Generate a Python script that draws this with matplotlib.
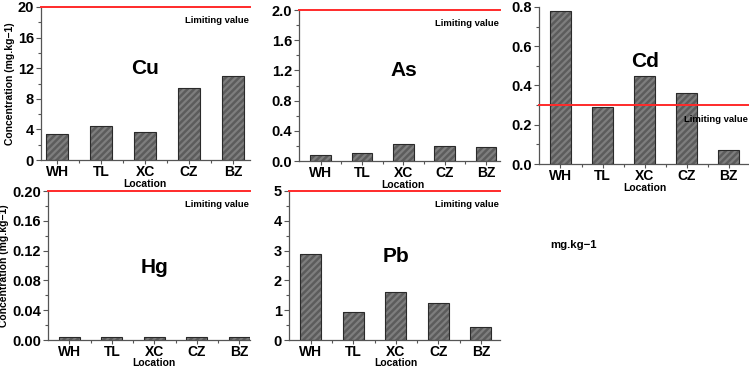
import matplotlib
matplotlib.use("Agg")
import matplotlib.pyplot as plt
from matplotlib.ticker import MultipleLocator
import numpy as np

plt.rcParams['font.family'] = ['Liberation Sans', 'DejaVu Sans']
plt.rcParams['font.weight'] = 'bold'
plt.rcParams['hatch.linewidth'] = 1.6

locations = ["WH", "TL", "XC", "CZ", "BZ"]
cu = [3.4, 4.45, 3.7, 9.45, 11.0]
as_ = [0.08, 0.107, 0.22, 0.20, 0.185]
cd = [0.78, 0.29, 0.45, 0.36, 0.07]
hg = [0.004, 0.004, 0.004, 0.004, 0.004]
pb = [2.9, 0.93, 1.61, 1.23, 0.45]
limits = {"Cu": 20, "As": 2.0, "Cd": 0.3, "Hg": 0.2, "Pb": 5}

W, H = 749, 369
fig = plt.figure(figsize=(W / 100, H / 100), dpi=100)

def px_axes(l, t, r, b):
    return fig.add_axes([l / W, 1 - b / H, (r - l) / W, (b - t) / H])

panels = [
    # name, values, (l,t,r,b), xlim, ylim, major, minor, text y, ylabel, Location offset px
    ("Cu", cu, (41, 7, 250, 160), (-0.364, 4.386), 20, 4, 2, 12, True, 27),
    ("As", as_, (299, 10, 500, 161), (-0.527, 4.34), 2.0, 0.4, 0.2, 1.2, False, 27),
    ("Cd", cd, (539, 7, 749, 164), (-0.51, 4.48), 0.8, 0.2, 0.1, 0.52, False, 27),
    ("Hg", hg, (48, 191, 250, 340), (-0.5, 4.25), 0.2, 0.04, 0.02, 0.097, True, 26),
    ("Pb", pb, (289, 191, 500, 340), (-0.51, 4.45), 5, 1, 0.5, 2.8, False, 26),
]

x = np.arange(len(locations))
for name, vals, box, xl, ytop, maj, mnr, ty, ylab, loff in panels:
    ax = px_axes(*box)
    ax.bar(x, vals, width=0.5, color="#5c5c5c", edgecolor="#7e7e7e",
           hatch="/////", linewidth=0, zorder=2)
    ax.bar(x, vals, width=0.5, fill=False, edgecolor="#2a2a2a",
           linewidth=0.8, zorder=3)
    ax.axhline(limits[name], color="#ff2a2a", lw=1.4, zorder=4, clip_on=False)
    ax.set_xlim(*xl)
    ax.set_ylim(0, ytop)
    ax.set_xticks(x)
    ax.set_xticklabels(locations, fontsize=10, fontweight="bold")
    ax.set_xticks(x[:-1] + 0.5, minor=True)
    ax.yaxis.set_major_locator(MultipleLocator(maj))
    ax.yaxis.set_minor_locator(MultipleLocator(mnr))
    for lab in ax.get_yticklabels():
        lab.set_fontsize(10.5)
        lab.set_fontweight("bold")
    ax.tick_params(axis="both", which="major", direction="out", length=3.5,
                   width=0.8, pad=1.5, colors="#555555", labelcolor="black")
    ax.tick_params(axis="x", which="major", length=3, pad=0.3)
    ax.tick_params(axis="both", which="minor", direction="out", length=2,
                   width=0.8, colors="#555555")
    for s in ("top", "right"):
        ax.spines[s].set_visible(False)
    for s in ("left", "bottom"):
        ax.spines[s].set_color("#555555")
        ax.spines[s].set_linewidth(0.9)
    ax.annotate("Location", xy=(2, 0), xycoords=("data", "axes fraction"),
                xytext=(0, -loff * 0.72), textcoords="offset points",
                ha="center", va="baseline", fontsize=7.5, fontweight="bold",
                annotation_clip=False)
    if ylab:
        ax.set_ylabel("Concentration (mg.kg\u22121)", fontsize=7.5,
                      fontweight="bold", labelpad=2)
    ax.text(2, ty, name, fontsize=15, fontweight="bold", ha="center",
            va="center", zorder=5)
    ax.annotate("Limiting value", xy=(1.0, limits[name]),
                xycoords=("axes fraction", "data"),
                xytext=(-1, -10), textcoords="offset points",
                ha="right", va="center", fontsize=6.8, fontweight="bold",
                zorder=5)

fig.text(550 / W, 1 - 245 / H, "mg.kg\u22121", fontsize=8.2, fontweight="bold",
         ha="left", va="center")

fig.savefig("out.png", dpi=100)
